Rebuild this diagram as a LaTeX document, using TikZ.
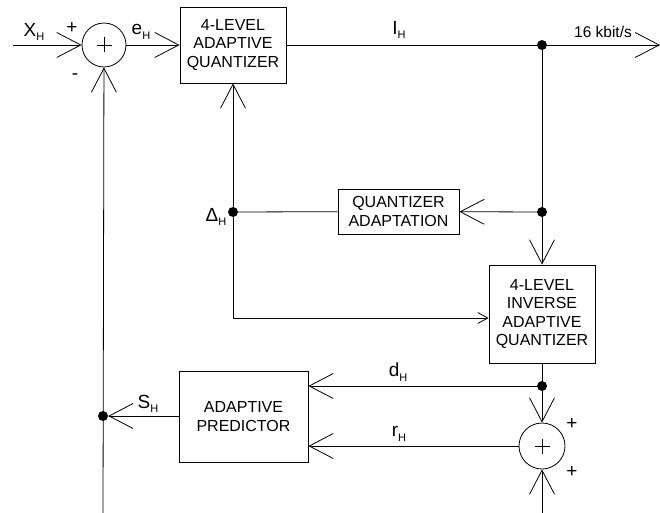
\documentclass[tikz,border=0pt]{standalone}
\usepackage{fontspec}
\setmainfont{Liberation Sans}
\usetikzlibrary{arrows.meta}
\newcommand\lsub[2]{#1\raisebox{-0.45ex}{\fontsize{11}{11}\selectfont #2}}
\tikzset{
  wire/.style={line width=0.8pt},
  bigarrow/.style={-{Straight Barb[length=24pt,width=25pt,line width=0.8pt]}},
  smallarrow/.style={-{Straight Barb[length=10pt,width=11pt,line width=0.8pt]}},
  blk/.style={draw, line width=0.8pt, font=\fontsize{16}{18.5}\selectfont, align=center, inner sep=0pt},
  jdot/.style={circle, fill, inner sep=0pt, minimum size=10pt},
  summer/.style={circle, draw, line width=0.8pt, minimum size=45pt, inner sep=0pt,
    path picture={\draw[line width=0.6pt]
      ([xshift=-7.5pt]path picture bounding box.center) -- ([xshift=7.5pt]path picture bounding box.center)
      ([yshift=-7.5pt]path picture bounding box.center) -- ([yshift=7.5pt]path picture bounding box.center);}},
  lbl/.style={font=\fontsize{19}{19}\selectfont, inner sep=0pt},
  rate/.style={font=\fontsize{15.5}{15.5}\selectfont, inner sep=0pt},
}
\begin{document}
\begin{tikzpicture}[x=1pt,y=-1pt]
\useasboundingbox (0,0) rectangle (660,513);

% blocks
\node[blk, minimum width=106pt, minimum height=76pt] (q) at (233,45) {4-LEVEL\\ADAPTIVE\\QUANTIZER};
\node[blk, minimum width=121pt, minimum height=45pt] (qa) at (398.5,211.5) {QUANTIZER\\ADAPTATION};
\node[blk, minimum width=106pt, minimum height=98pt] (iq) at (542,314) {4-LEVEL\\INVERSE\\ADAPTIVE\\QUANTIZER};
\node[blk, minimum width=129pt, minimum height=91pt] (pred) at (243.5,416.5) {ADAPTIVE\\PREDICTOR};

% summers
\node[summer, minimum size=44pt] (s1) at (104,45) {};
\node[summer, minimum size=46pt] (s2) at (542,446) {};

% junction dots
\node[jdot] (d1) at (542,45) {};
\node[jdot] (d2) at (542,212) {};
\node[jdot] (dD) at (233,212) {};
\node[jdot] (d3) at (542,386) {};
\node[jdot] (dS) at (103,416) {};

% free ends
\coordinate (in) at (13,45);
\coordinate (out) at (660,45);
\coordinate (bl) at (103,513);
\coordinate (br) at (542,513);

% connectors
\draw[wire,bigarrow] (in) -- (s1);
\draw[wire,bigarrow] (s1) -- (q);
\draw[wire,bigarrow] (q) -- (out);
\draw[wire] (d1) -- (d2);
\draw[wire,bigarrow] (d2) -- (iq);
\draw[wire,bigarrow] (d2) -- (qa);
\draw[wire] (qa) -- (dD);
\draw[wire,bigarrow] (dD) -- (q);
\draw[wire,smallarrow] (dD) |- ([yshift=-4pt]iq.west);
\draw[wire] (iq) -- (d3);
\draw[wire,bigarrow] (d3) -- (s2);
\draw[wire,bigarrow] (d3) -- (pred.east |- d3);
\draw[wire,bigarrow] (s2) -- (pred.east |- s2);
\draw[wire,bigarrow] (pred.west |- dS) -- (dS);
\draw[wire,bigarrow] (bl) -- (s1);
\draw[wire,bigarrow] (br) -- (s2);

% labels
\node[lbl] (lx) at (34,32) {\lsub{X}{H}};
\node[lbl] (lp1) at (72,28) {+};
\node[lbl] (lm1) at (75,77) {-};
\node[lbl] (le) at (141,32) {\lsub{e}{H}};
\node[lbl] (li) at (399,30) {\lsub{I}{H}};
\node[rate] (lr) at (603,32) {16 kbit/s};
\node[lbl] (ld) at (216,217) {\lsub{Δ}{H}};
\node[lbl] (ldh) at (398,372) {\lsub{d}{H}};
\node[lbl] (lrh) at (399,434) {\lsub{r}{H}};
\node[lbl] (ls) at (148,404) {\lsub{S}{H}};
\node[lbl] (lp2) at (572,424) {+};
\node[lbl] (lp3) at (572,472) {+};
\end{tikzpicture}
\end{document}
